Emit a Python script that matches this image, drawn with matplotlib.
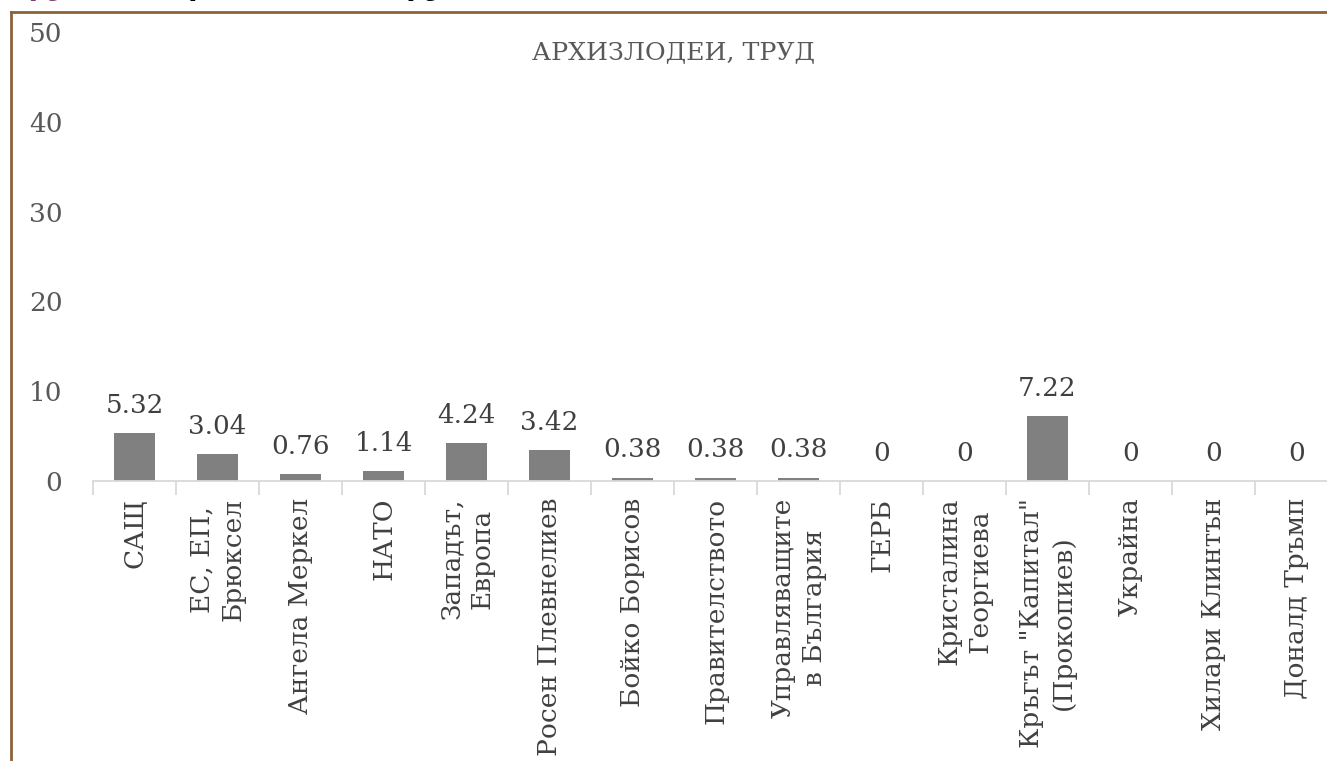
import numpy as np
import matplotlib
matplotlib.use("Agg")
import matplotlib.pyplot as plt
from matplotlib.lines import Line2D

categories = [
    "САЩ",
    "ЕС, ЕП,\nБрюксел",
    "Ангела Меркел",
    "НАТО",
    "Западът,\nЕвропа",
    "Росен Плевнелиев",
    "Бойко Борисов",
    "Правителството",
    "Управляващите\nв България",
    "ГЕРБ",
    "Кристалина\nГеоргиева",
    "Кръгът \"Капитал\"\n(Прокопиев)",
    "Украйна",
    "Хилари Клинтън",
    "Доналд Тръмп",
]
values = [5.32, 3.04, 0.76, 1.14, 4.24, 3.42, 0.38, 0.38, 0.38, 0, 0, 7.22, 0, 0, 0]
yticks = [0, 10, 20, 30, 40, 50]
chart_title = "АРХИЗЛОДЕИ, ТРУД"

plt.rcParams["font.family"] = ["DejaVu Serif"]

W, H = 1327, 761
fig = plt.figure(figsize=(W / 100, H / 100), dpi=100)
fig.patch.set_facecolor("white")

# plot area runs past the right edge, like the cropped original
left, right, bottom, top = 93, 1338, 481, 32
ax = fig.add_axes([left / W, 1 - bottom / H, (right - left) / W, (bottom - top) / H])
ax.set_facecolor("none")

x = np.arange(len(categories))
ax.bar(x, values, width=0.5, color="#808080", zorder=2)

for xi, v in zip(x, values):
    ax.annotate(f"{v:g}", (xi, v), xytext=(0, 14.5), textcoords="offset points",
                ha="center", va="baseline", fontsize=18.8, color="#404040")

ax.set_xlim(-0.5, len(categories) - 0.5)
ax.set_ylim(0, 50)
ax.set_yticks(yticks)
ax.set_yticklabels([str(t) for t in yticks], fontsize=19, color="#595959")
ax.tick_params(axis="y", length=0, pad=22)

ax.set_xticks(np.arange(len(categories) + 1) - 0.5)
ax.set_xticklabels([])
ax.set_xticks(x, minor=True)
ax.set_xticklabels(categories, minor=True, rotation=90, ha="center", va="top",
                   multialignment="center", fontsize=19, color="#404040",
                   linespacing=1.3)
ax.tick_params(axis="x", which="major", length=10, color="#D9D9D9", width=1.3)
ax.tick_params(axis="x", which="minor", length=0, pad=12)

for s in ["top", "right", "left"]:
    ax.spines[s].set_visible(False)
ax.spines["bottom"].set_color("#D9D9D9")
ax.spines["bottom"].set_linewidth(1.3)

fig.text(673 / W, 1 - 53 / H, chart_title, ha="center", va="center",
         fontsize=18.2, color="#595959")

# brown frame of the surrounding box
frame_col = "#8C6239"
fx, fy = 11 / W, 1 - 12 / H
fig.add_artist(Line2D([fx, fx], [0, fy], color=frame_col, lw=2, transform=fig.transFigure))
fig.add_artist(Line2D([fx, 1], [fy, fy], color=frame_col, lw=2, transform=fig.transFigure))

# caption above the box, mostly cut off by the crop
fig.text(12 / W, 1 + 5 / H, "Група 4.", ha="left", va="baseline", fontsize=20,
         fontweight="bold", fontstyle="italic", color="#7B3F6E")
fig.text(168 / W, 1 + 5 / H, "Архизлодеи, труд", ha="left", va="baseline", fontsize=20,
         fontweight="bold", fontstyle="italic", color="black")

fig.savefig("out.png", dpi=100)
